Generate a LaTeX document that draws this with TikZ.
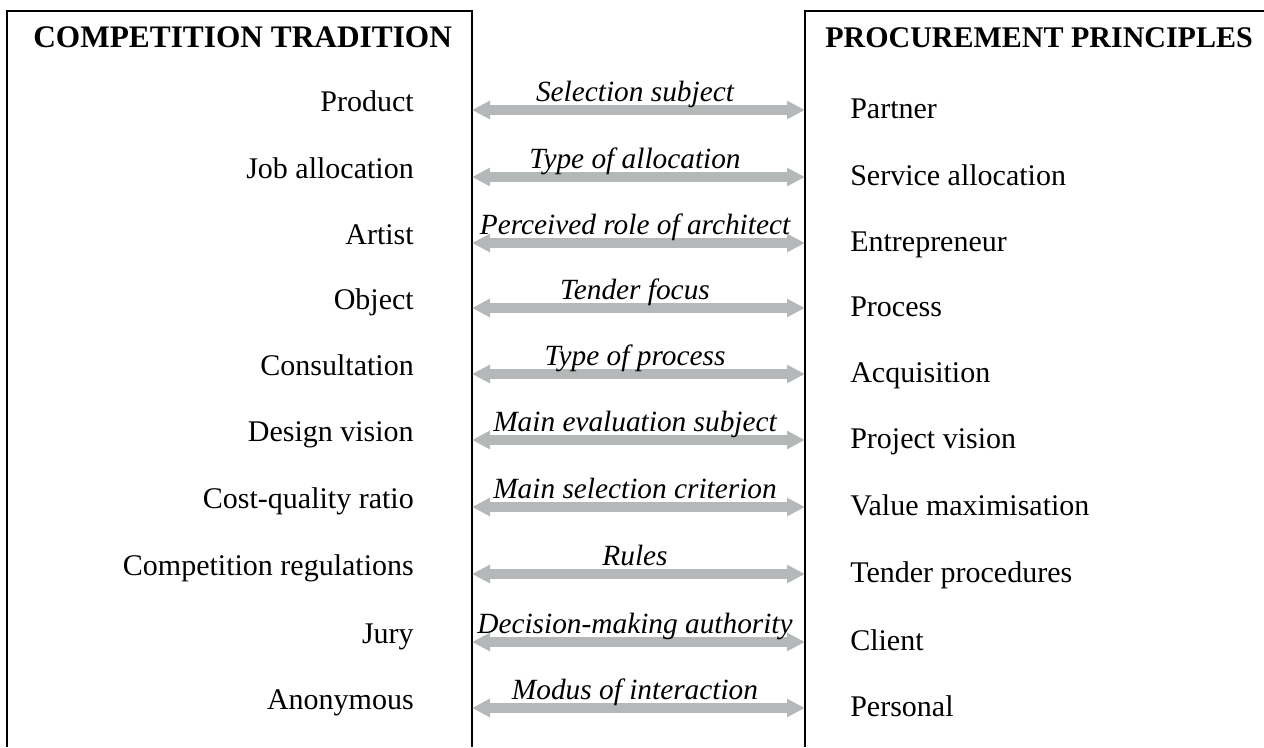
\documentclass[tikz,border=0pt]{standalone}
\usepackage{fontspec}
\setmainfont{Liberation Serif}
\usetikzlibrary{arrows.meta}
\definecolor{arrowgray}{RGB}{180,184,184}

\begin{document}
\begin{tikzpicture}[
                x=0.75pt, y=-0.75pt,
                leftnode/.style={
                    anchor=base east, inner sep=0pt, font=\fontsize{22.5pt}{27pt}\selectfont
                },
                rightnode/.style={
                    anchor=base west, inner sep=0pt, font=\fontsize{22.5pt}{27pt}\selectfont
                },
                midnode/.style={
                    anchor=base, inner sep=0pt, font=\fontsize{22pt}{26pt}\selectfont\itshape
                },
                titlenode/.style={
                    anchor=base west, inner sep=0pt, font=\fontsize{22.5pt}{27pt}\selectfont\bfseries
                },
                pairarrow/.style={
                    {Triangle[length=13.5pt, width=13pt]}-{Triangle[length=13.5pt, width=13pt]},
                    arrowgray, line width=7.5pt
                }
            ]
            \useasboundingbox (0, 0) rectangle (1264, 747);

            % boxes
            \draw[line width=1.1pt] (7, 747) -- (7, 11) -- (472, 11) -- (472, 747);
            \draw[line width=1.1pt] (805, 747) -- (805, 11) -- (1270, 11);

            \node[titlenode, font=\fontsize{23.5pt}{28pt}\selectfont\bfseries] (CT) at (33, 47) {COMPETITION TRADITION};
            \node[titlenode] (PP) at (825, 47) {PROCUREMENT PRINCIPLES};

            \node[leftnode] (Product) at (414, 111) {Product};
            \node[leftnode] (Job) at (414, 178) {Job allocation};
            \node[leftnode] (Artist) at (414, 244) {Artist};
            \node[leftnode] (Object) at (414, 309) {Object};
            \node[leftnode] (Consultation) at (414, 375) {Consultation};
            \node[leftnode] (Design) at (414, 441) {Design vision};
            \node[leftnode] (Cost) at (414, 508) {Cost-quality ratio};
            \node[leftnode] (Regulations) at (414, 575) {Competition regulations};
            \node[leftnode] (Jury) at (414, 643) {Jury};
            \node[leftnode] (Anonymous) at (414, 709) {Anonymous};

            \node[rightnode] (Partner) at (850, 118) {Partner};
            \node[rightnode] (Service) at (850, 185) {Service allocation};
            \node[rightnode] (Entrepreneur) at (850, 251) {Entrepreneur};
            \node[rightnode] (Process) at (850, 316) {Process};
            \node[rightnode] (Acquisition) at (850, 382) {Acquisition};
            \node[rightnode] (Project) at (850, 448) {Project vision};
            \node[rightnode] (Value) at (850, 515) {Value maximisation};
            \node[rightnode] (Tender) at (850, 582) {Tender procedures};
            \node[rightnode] (Client) at (850, 650) {Client};
            \node[rightnode] (Personal) at (850, 716) {Personal};

            % arrow ends on the box lines
            \coordinate (L1) at (472, 110);  \coordinate (R1) at (805, 110);
            \coordinate (L2) at (472, 177);  \coordinate (R2) at (805, 177);
            \coordinate (L3) at (472, 243);  \coordinate (R3) at (805, 243);
            \coordinate (L4) at (472, 308);  \coordinate (R4) at (805, 308);
            \coordinate (L5) at (472, 374);  \coordinate (R5) at (805, 374);
            \coordinate (L6) at (472, 440);  \coordinate (R6) at (805, 440);
            \coordinate (L7) at (472, 507);  \coordinate (R7) at (805, 507);
            \coordinate (L8) at (472, 574);  \coordinate (R8) at (805, 574);
            \coordinate (L9) at (472, 642);  \coordinate (R9) at (805, 642);
            \coordinate (L10) at (472, 708); \coordinate (R10) at (805, 708);

            % arrows
            \draw[pairarrow] (L1) -- (R1);
            \draw[pairarrow] (L2) -- (R2);
            \draw[pairarrow] (L3) -- (R3);
            \draw[pairarrow] (L4) -- (R4);
            \draw[pairarrow] (L5) -- (R5);
            \draw[pairarrow] (L6) -- (R6);
            \draw[pairarrow] (L7) -- (R7);
            \draw[pairarrow] (L8) -- (R8);
            \draw[pairarrow] (L9) -- (R9);
            \draw[pairarrow] (L10) -- (R10);

            \node[midnode] (Subject) at (635, 101) {Selection subject};
            \node[midnode] (Allocation) at (635, 168) {Type of allocation};
            \node[midnode] (Role) at (635, 234) {Perceived role of architect};
            \node[midnode] (Focus) at (635, 299) {Tender focus};
            \node[midnode] (TypeProcess) at (635, 365) {Type of process};
            \node[midnode] (Evaluation) at (635, 431) {Main evaluation subject};
            \node[midnode] (Criterion) at (635, 498) {Main selection criterion};
            \node[midnode] (Rules) at (635, 565) {Rules};
            \node[midnode] (Authority) at (635, 633) {Decision-making authority};
            \node[midnode] (Interaction) at (635, 699) {Modus of interaction};
            \end{tikzpicture}
\end{document}
